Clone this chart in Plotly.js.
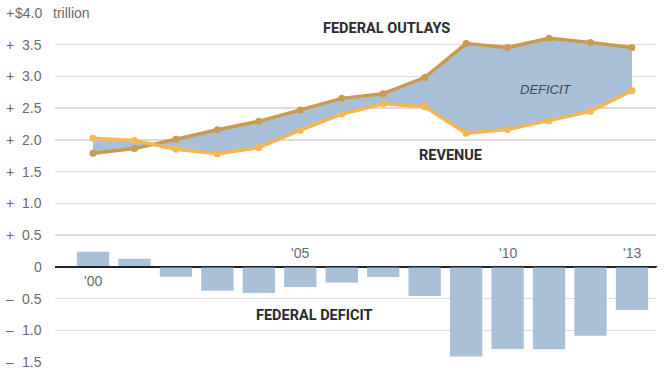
<!DOCTYPE html>
<html>
<head>
<meta charset="utf-8">
<script src="https://cdn.plot.ly/plotly-3.0.1.min.js"></script>
<style>html,body{margin:0;padding:0;background:#fff;}#chart{width:666px;height:371px;}</style>
</head>
<body>
<div id="chart"></div>
<script>
const years = [2000,2001,2002,2003,2004,2005,2006,2007,2008,2009,2010,2011,2012,2013];
const outlays = [1.789,1.863,2.011,2.160,2.293,2.472,2.655,2.729,2.983,3.518,3.457,3.603,3.537,3.455];
const revenue = [2.025,1.991,1.853,1.783,1.880,2.154,2.407,2.568,2.524,2.105,2.163,2.303,2.450,2.775];
const deficit = [0.236,0.128,-0.158,-0.378,-0.413,-0.318,-0.248,-0.161,-0.459,-1.413,-1.294,-1.300,-1.087,-0.680];
const yTicks = [4.0,3.5,3.0,2.5,2.0,1.5,1.0,0.5,0,-0.5,-1.0,-1.5];
const yearLabels = [{year:2000,text:"'00",below:true},{year:2005,text:"'05"},{year:2010,text:"'10"},{year:2013,text:"'13"}];

const cOut = '#c99a50', cRev = '#f6b650', cBlue = '#a8c0d8';
const traces = [
  {type:'bar', x:years, y:deficit, width:0.78, marker:{color:cBlue}, hoverinfo:'skip'},
  {type:'scatter', mode:'lines+markers', x:years, y:outlays, line:{color:cOut,width:3.5}, marker:{color:cOut,size:7}, hoverinfo:'skip'},
  {type:'scatter', mode:'lines+markers', x:years, y:revenue, fill:'tonexty', fillcolor:cBlue, line:{color:cRev,width:3.5}, marker:{color:cRev,size:7}, hoverinfo:'skip'}
];

const lblFont = {family:'Liberation Sans, Arial, sans-serif', size:14, color:'#6a6a6a'};
const ann = [];
yTicks.forEach(v => {
  const num = Math.abs(v) === 0 ? '0' : Math.abs(v).toFixed(1);
  ann.push({xref:'paper', yref:'y', x:0, y:v, xanchor:'right', yanchor:'middle', xshift:-11, text:(v===4.0?'$':'')+num, showarrow:false, font:lblFont});
  if (v !== 0) ann.push({xref:'paper', yref:'y', x:0, y:v, xanchor:'left', yanchor:'middle', xshift:-51, text:v>0?'+':'–', showarrow:false, font:lblFont});
});
ann.push({xref:'paper', yref:'y', x:0, y:4.0, xanchor:'left', yanchor:'middle', xshift:-4, text:'trillion', showarrow:false, font:lblFont});
yearLabels.forEach(o => {
  ann.push({xref:'x', yref:'y', x:o.year, y:0, xanchor:'center', yanchor:'middle', yshift:o.below?-14:14, text:o.text, showarrow:false, font:lblFont});
});
const boldFont = {family:'Roboto, Liberation Sans, sans-serif', size:14.5, color:'#2a2a2a'};
ann.push({xref:'x', yref:'y', x:2007.09, y:3.75, text:'<b>FEDERAL OUTLAYS</b>', showarrow:false, font:boldFont});
ann.push({xref:'x', yref:'y', x:2008.62, y:1.75, text:'<b>REVENUE</b>', showarrow:false, font:boldFont});
ann.push({xref:'x', yref:'y', x:2005.33, y:-0.77, text:'<b>FEDERAL DEFICIT</b>', showarrow:false, font:boldFont});
ann.push({xref:'x', yref:'y', x:2010.93, y:2.79, text:'<i>DEFICIT</i>', showarrow:false, font:{family:'Liberation Sans, Arial, sans-serif', size:13, color:'#3a4a5a'}});

const layout = {
  width:666, height:371,
  margin:{l:55, r:10, t:13, b:9, pad:0},
  paper_bgcolor:'#fff', plot_bgcolor:'#fff',
  showlegend:false, barmode:'overlay', hovermode:false,
  xaxis:{range:[1999.083, 2013.58], showgrid:false, zeroline:false, showticklabels:false, ticks:'', fixedrange:true},
  yaxis:{range:[-1.5, 4.0], tickvals:yTicks, showticklabels:false, ticks:'', gridcolor:'#dcdcdc', gridwidth:1.5,
         zeroline:true, zerolinecolor:'#222', zerolinewidth:1.5, fixedrange:true},
  shapes:[{type:'rect', xref:'paper', yref:'y', x0:0, x1:0.0815, y0:3.95, y1:4.05, fillcolor:'#fff', line:{width:0}, layer:'above'},
          {type:'line', xref:'paper', yref:'y', x0:0, x1:1.002, y0:0, y1:0, line:{color:'#222', width:1.5}, layer:'above'}],
  annotations:ann
};
Plotly.newPlot('chart', traces, layout, {displayModeBar:false, staticPlot:true});
</script>
</body>
</html>
